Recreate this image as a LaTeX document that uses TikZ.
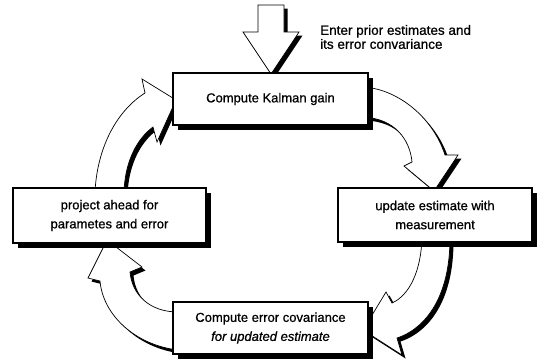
\documentclass[tikz,border=0pt]{standalone}
\usepackage{fontspec}
\setmainfont{Liberation Sans}
\newfontfamily\kfscan{Liberation Sans}[FakeBold=0.8]
\usetikzlibrary{shadows}
\def\kfPathTop{(258,5) -- (284,5) -- (284,32) -- (299,32) -- (271,74) -- (243,32) -- (258,32) -- cycle}
\def\kfPathA{(95,192) .. controls (97,150) and (115,112) .. (145,93) -- (142,79) -- (176,100) -- (157,142) -- (153,127) .. controls (138,138) and (125,160) .. (124,192) -- cycle}
\def\kfPathB{(362,87) .. controls (395,88) and (432,115) .. (445,155) -- (458,155) -- (434,191) -- (404,166) -- (412,162) .. controls (410,140) and (395,118) .. (362,117) -- cycle}
\def\kfPathC{(422,238) .. controls (421,270) and (410,295) .. (392,303) -- (386,292) -- (363,330) -- (402,355) -- (397,338) .. controls (427,328) and (450,295) .. (450,238) -- cycle}
\def\kfPathD{(107,240) -- (88,278) -- (100,281) .. controls (103,315) and (135,345) .. (178,350) -- (178,312) .. controls (150,312) and (132,295) .. (130,272) -- (142,267) -- cycle}
\begin{document}
\begin{tikzpicture}[x=1pt,y=-1pt,
  box/.style={draw=black, line width=1.1pt, fill=white, rectangle, inner sep=0pt,
    align=center, font=\kfscan\fontsize{13}{19}\selectfont,
    general shadow={fill=black, shadow xshift=4.5pt, shadow yshift=-4.5pt}},
  blockarrow/.style={draw=black, line width=0.7pt, fill=white, line join=miter},
  arrowshadow/.style={fill=black, shift={(3.5,3.5)}}]
\useasboundingbox (0,0) rectangle (538,360);
% block arrows
\fill[arrowshadow] \kfPathTop;
\filldraw[blockarrow] \kfPathTop;
\fill[arrowshadow] \kfPathA;
\filldraw[blockarrow] \kfPathA;
\fill[arrowshadow] \kfPathB;
\filldraw[blockarrow] \kfPathB;
\fill[arrowshadow] \kfPathC;
\filldraw[blockarrow] \kfPathC;
\fill[arrowshadow] \kfPathD;
\filldraw[blockarrow] \kfPathD;
% boxes
\node[box, minimum width=195pt, minimum height=52pt] (kalman) at (270.5,99) {Compute Kalman gain};
\node[box, minimum width=193pt, minimum height=55pt] (project) at (109.5,215.5) {project ahead for\\parametes and error};
\node[box, minimum width=194pt, minimum height=54pt] (update) at (435,215) {update estimate with\\measurement};
\node[box, minimum width=195pt, minimum height=52pt] (cov) at (270.5,328) {Compute error covariance\\\itshape for updated estimate};
% note
\node[anchor=west, align=left, inner sep=0pt, font=\kfscan\fontsize{13.5}{14}\selectfont] (note) at (320,37) {Enter prior estimates and\\its error convariance};
\end{tikzpicture}
\end{document}
